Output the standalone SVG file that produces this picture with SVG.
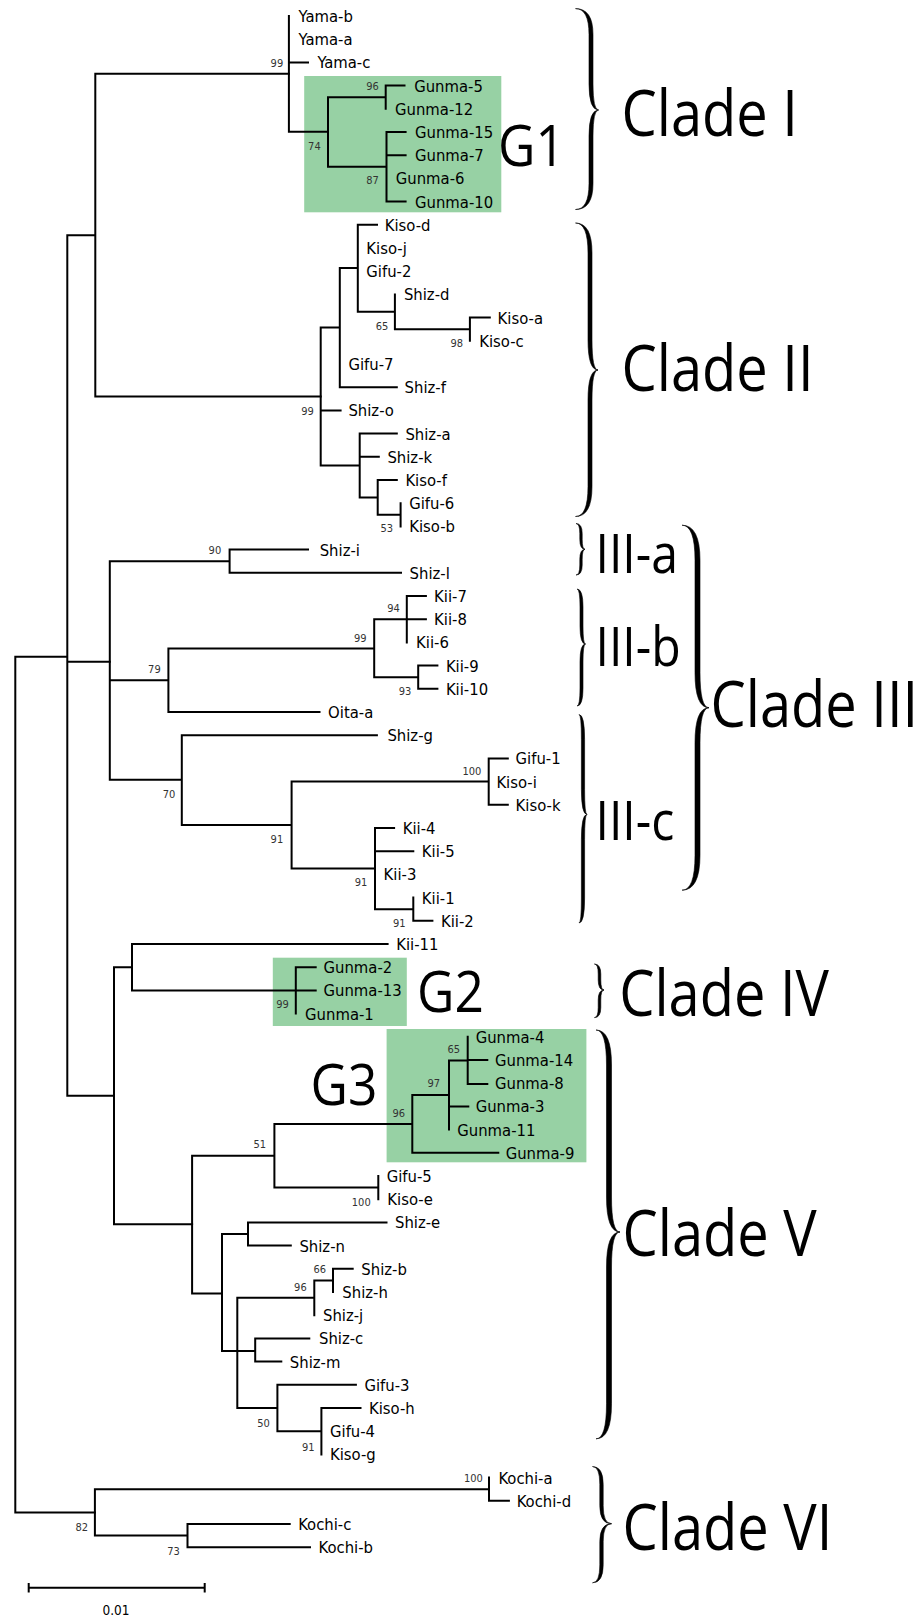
<svg xmlns="http://www.w3.org/2000/svg" width="921" height="1619" viewBox="0 0 921 1619">
  <style>
    .br { fill: none; stroke: #000; stroke-width: 2; stroke-linecap: square; }
    .hl { fill: #97d1a4; }
    .tx { font-family: "DejaVu Sans Condensed", "DejaVu Sans", sans-serif; font-stretch: condensed; font-size: 16.5px; fill: #000; }
    .bs { font-family: "DejaVu Sans Condensed", "DejaVu Sans", sans-serif; font-stretch: condensed; font-size: 11px; fill: #333; text-anchor: end; }
    .brace { fill: #000; stroke: #000; stroke-width: 0.6; stroke-linejoin: round; }
    .big { font-family: "Open Sans", "Noto Sans", sans-serif; font-size: 64px; fill: #000; }
    .sub { font-family: "Open Sans", "Noto Sans", sans-serif; font-size: 55px; fill: #000; }
    .grp { font-family: "Open Sans", "Noto Sans", sans-serif; font-size: 56px; fill: #000; }
  </style>

  <!-- shaded Gunma groups -->
  <g id="highlights">
    <rect class="hl" x="304.2" y="76" width="197.1" height="136.3"/>
    <rect class="hl" x="272.8" y="957.7" width="134" height="68.3"/>
    <rect class="hl" x="386.6" y="1029" width="199.8" height="133.3"/>
  </g>

  <!-- branches of the tree -->
  <g id="connectors">
    <path id="backbone" class="br" d="M15.3,656.7 V1512.4 M15.3,656.7 H67.3 M67.3,235.2 V1095.7 M67.3,235.2 H95.3 M95.3,73.8 V396.5 M95.3,73.8 H288.9 M95.3,396.5 H320.7 M67.3,661.7 H109.8 M67.3,1095.7 H114 M114,967.2 V1224.2 M114,967.2 H132 M114,1224.2 H192.1 M15.3,1512.4 H94.9"/>
    <path id="branches-clade-I" class="br" d="M288.9,16 V131.7 M288.9,62.4 H308 M288.9,131.7 H328 M328,97.2 V166.8 M328,97.2 H385.7 M385.7,85.6 V108.8 M385.7,85.6 H404.5 M328,166.8 H386.5 M386.5,132 V201.6 M386.5,132 H405.6 M386.5,155.2 H405.6 M386.5,201.6 H405.6"/>
    <path id="branches-clade-II" class="br" d="M320.7,327.5 V465.5 M320.7,327.5 H339.8 M339.8,268 V387.2 M339.8,268 H357.8 M357.8,224.8 V311.8 M357.8,224.8 H377 M357.8,311.8 H394.9 M394.9,294.4 V329.2 M394.9,329.2 H469.9 M469.9,317.6 V340.8 M469.9,317.6 H489.8 M339.8,387.2 H396.8 M320.7,410.4 H340.6 M320.7,465.5 H359.7 M359.7,433.6 V497.4 M359.7,433.6 H396.8 M359.7,456.8 H378.8 M359.7,497.4 H377.7 M377.7,480 V514.8 M377.7,480 H396.8 M377.7,514.8 H400.6 M400.6,503.2 V526.4"/>
    <path id="branches-clade-III" class="br" d="M109.8,561.2 V779.8 M109.8,561.2 H229.6 M229.6,549.6 V572.8 M229.6,549.6 H308 M229.6,572.8 H401 M109.8,680.2 H168.4 M168.4,648.6 V712 M168.4,648.6 H374.2 M374.2,619.2 V677.2 M374.2,619.2 H406.8 M406.8,596 V642.4 M406.8,596 H425.9 M406.8,619.2 H425.9 M374.2,677.2 H418.2 M418.2,665.6 V688.8 M418.2,665.6 H437.4 M418.2,688.8 H437.4 M168.4,712 H319.5 M109.8,779.8 H181.8 M181.8,735.2 V825 M181.8,735.2 H376.9 M181.8,825 H291.6 M291.6,781.6 V868.6 M291.6,781.6 H488.7 M488.7,758.4 V804.8 M488.7,758.4 H507.8 M488.7,804.8 H507.8 M291.6,868.6 H375 M375,828 V909.2 M375,828 H394.1 M375,851.2 H413.3 M375,909.2 H413.3 M413.3,897.6 V920.8 M413.3,920.8 H432.4"/>
    <path id="branches-clade-IV" class="br" d="M132,944 V990.4 M132,944 H387.6 M132,990.4 H295.8 M295.8,967.2 V1013.6 M295.8,967.2 H315.7 M295.8,990.4 H315.7"/>
    <path id="branches-clade-V" class="br" d="M192.1,1155.8 V1293.4 M192.1,1155.8 H274.4 M274.4,1123.9 V1187.6 M274.4,1123.9 H412.3 M412.3,1095 V1152.8 M412.3,1095 H449 M449,1060.4 V1129.6 M449,1060.4 H467.7 M467.7,1036.8 V1084 M467.7,1060 H487.3 M467.7,1084 H487.3 M449,1106.4 H468.3 M412.3,1152.8 H498.3 M274.4,1187.6 H378.3 M378.3,1176 V1199.2 M192.1,1293.4 H222 M222,1234 V1351 M222,1234 H248 M248,1222.4 V1245.6 M248,1222.4 H386.5 M248,1245.6 H290.8 M222,1351 H255.2 M237.3,1297.8 V1408 M237.3,1297.8 H314.3 M314.3,1280.4 V1315.2 M314.3,1280.4 H333 M333,1268.8 V1292 M333,1268.8 H352.7 M255.2,1338.4 V1361.6 M255.2,1338.4 H309.3 M255.2,1361.6 H281.3 M237.3,1408 H277.4 M277.4,1384.8 V1431.2 M277.4,1384.8 H355.9 M277.4,1431.2 H321.4 M321.4,1408 V1454.4 M321.4,1408 H360.5"/>
    <path id="branches-clade-VI" class="br" d="M94.9,1489.2 V1535.6 M94.9,1489.2 H489 M489,1477.6 V1500.8 M489,1500.8 H508.9 M94.9,1535.6 H187.5 M187.5,1524 V1547.2 M187.5,1524 H289.7 M187.5,1547.2 H310"/>
  </g>

  <!-- Clade I taxa and support values -->
  <g id="clade-I">
    <text class="tx" x="298.6" y="22">Yama-b</text>
    <text class="tx" x="298.6" y="45.2">Yama-a</text>
    <text class="tx" x="317.4" y="68.4">Yama-c</text>
    <text class="tx" x="414.2" y="91.6">Gunma-5</text>
    <text class="tx" x="395" y="114.8">Gunma-12</text>
    <text class="tx" x="415" y="138">Gunma-15</text>
    <text class="tx" x="415" y="161.2">Gunma-7</text>
    <text class="tx" x="395.8" y="184.4">Gunma-6</text>
    <text class="tx" x="415" y="207.6">Gunma-10</text>
    <text class="bs" x="283.2" y="66.7">99</text>
    <text class="bs" x="378.8" y="90">96</text>
    <text class="bs" x="320.7" y="149.7">74</text>
    <text class="bs" x="378.8" y="184">87</text>
  </g>

  <!-- Clade II taxa and support values -->
  <g id="clade-II">
    <text class="tx" x="384.7" y="230.8">Kiso-d</text>
    <text class="tx" x="366.3" y="254">Kiso-j</text>
    <text class="tx" x="366.3" y="277.2">Gifu-2</text>
    <text class="tx" x="403.9" y="300.4">Shiz-d</text>
    <text class="tx" x="497.6" y="323.6">Kiso-a</text>
    <text class="tx" x="479.2" y="346.8">Kiso-c</text>
    <text class="tx" x="348.4" y="370">Gifu-7</text>
    <text class="tx" x="404.6" y="393.2">Shiz-f</text>
    <text class="tx" x="348.4" y="416.4">Shiz-o</text>
    <text class="tx" x="405.4" y="439.6">Shiz-a</text>
    <text class="tx" x="387.4" y="462.8">Shiz-k</text>
    <text class="tx" x="405.4" y="486">Kiso-f</text>
    <text class="tx" x="409.2" y="509.2">Gifu-6</text>
    <text class="tx" x="409.2" y="532.4">Kiso-b</text>
    <text class="bs" x="388.4" y="329.7">65</text>
    <text class="bs" x="463" y="346.7">98</text>
    <text class="bs" x="313.8" y="415">99</text>
    <text class="bs" x="393" y="532.3">53</text>
  </g>

  <!-- Clade III taxa and support values -->
  <g id="clade-III">
    <text class="tx" x="319.7" y="555.6">Shiz-i</text>
    <text class="tx" x="409.6" y="578.8">Shiz-l</text>
    <text class="tx" x="434.1" y="602">Kii-7</text>
    <text class="tx" x="434.1" y="625.2">Kii-8</text>
    <text class="tx" x="416.1" y="648.4">Kii-6</text>
    <text class="tx" x="445.9" y="671.6">Kii-9</text>
    <text class="tx" x="445.9" y="694.8">Kii-10</text>
    <text class="tx" x="328.1" y="718">Oita-a</text>
    <text class="tx" x="387.4" y="741.2">Shiz-g</text>
    <text class="tx" x="515.6" y="764.4">Gifu-1</text>
    <text class="tx" x="496.4" y="787.6">Kiso-i</text>
    <text class="tx" x="515.6" y="810.8">Kiso-k</text>
    <text class="tx" x="402.7" y="834">Kii-4</text>
    <text class="tx" x="421.8" y="857.2">Kii-5</text>
    <text class="tx" x="383.6" y="880.4">Kii-3</text>
    <text class="tx" x="421.8" y="903.6">Kii-1</text>
    <text class="tx" x="441" y="926.8">Kii-2</text>
    <text class="bs" x="221.2" y="554">90</text>
    <text class="bs" x="399.9" y="612.3">94</text>
    <text class="bs" x="366.6" y="641.7">99</text>
    <text class="bs" x="160.7" y="673">79</text>
    <text class="bs" x="411.3" y="695">93</text>
    <text class="bs" x="481.4" y="774.7">100</text>
    <text class="bs" x="175.3" y="798">70</text>
    <text class="bs" x="283.2" y="843">91</text>
    <text class="bs" x="367.3" y="886.3">91</text>
    <text class="bs" x="405.6" y="927.3">91</text>
  </g>

  <!-- Clade IV taxa and support values -->
  <g id="clade-IV">
    <text class="tx" x="396.2" y="950">Kii-11</text>
    <text class="tx" x="323.5" y="973.2">Gunma-2</text>
    <text class="tx" x="323.5" y="996.4">Gunma-13</text>
    <text class="tx" x="305.1" y="1019.6">Gunma-1</text>
    <text class="bs" x="288.9" y="1008.3">99</text>
  </g>

  <!-- Clade V taxa and support values -->
  <g id="clade-V">
    <text class="tx" x="475.7" y="1042.8">Gunma-4</text>
    <text class="tx" x="495" y="1066">Gunma-14</text>
    <text class="tx" x="495" y="1089.2">Gunma-8</text>
    <text class="tx" x="475.7" y="1112.4">Gunma-3</text>
    <text class="tx" x="457.3" y="1135.6">Gunma-11</text>
    <text class="tx" x="505.7" y="1158.8">Gunma-9</text>
    <text class="tx" x="386.7" y="1182">Gifu-5</text>
    <text class="tx" x="387.3" y="1205.2">Kiso-e</text>
    <text class="tx" x="395" y="1228.4">Shiz-e</text>
    <text class="tx" x="299.4" y="1251.6">Shiz-n</text>
    <text class="tx" x="361.3" y="1274.8">Shiz-b</text>
    <text class="tx" x="342.3" y="1298">Shiz-h</text>
    <text class="tx" x="323" y="1321.2">Shiz-j</text>
    <text class="tx" x="319" y="1344.4">Shiz-c</text>
    <text class="tx" x="289.8" y="1367.6">Shiz-m</text>
    <text class="tx" x="364.4" y="1390.8">Gifu-3</text>
    <text class="tx" x="369" y="1414">Kiso-h</text>
    <text class="tx" x="330" y="1437.2">Gifu-4</text>
    <text class="tx" x="330" y="1460.4">Kiso-g</text>
    <text class="bs" x="460" y="1053">65</text>
    <text class="bs" x="440" y="1087.3">97</text>
    <text class="bs" x="405" y="1116.7">96</text>
    <text class="bs" x="266" y="1148.3">51</text>
    <text class="bs" x="370.7" y="1205.7">100</text>
    <text class="bs" x="326" y="1273">66</text>
    <text class="bs" x="306.7" y="1290.7">96</text>
    <text class="bs" x="269.8" y="1426.7">50</text>
    <text class="bs" x="314.5" y="1450.7">91</text>
  </g>

  <!-- Clade VI taxa and support values -->
  <g id="clade-VI">
    <text class="tx" x="498.4" y="1483.6">Kochi-a</text>
    <text class="tx" x="516.7" y="1506.8">Kochi-d</text>
    <text class="tx" x="298.2" y="1530">Kochi-c</text>
    <text class="tx" x="318.5" y="1553.2">Kochi-b</text>
    <text class="bs" x="482.9" y="1482.3">100</text>
    <text class="bs" x="88" y="1530.7">82</text>
    <text class="bs" x="179.9" y="1554.7">73</text>
  </g>

  <!-- group labels for shaded boxes -->
  <g id="group-labels">
    <text class="grp" transform="translate(498,165.7) scale(0.92,1)">G1</text>
    <text class="grp" transform="translate(417,1012) scale(0.92,1)">G2</text>
    <text class="grp" transform="translate(310.5,1105) scale(0.92,1)">G3</text>
  </g>

  <!-- clade braces and names -->
  <g id="label-clade-I">
    <path class="brace" d="M575.5,8.6 Q593,8.6 593,34.6 L593,84 Q593,110 598.5,110 Q593,110 593,136 L593,183.5 Q593,209.5 575.5,209.5 Q589,209.5 589,183.5 L589,136 Q589,110 598.5,110 Q589,110 589,84 L589,34.6 Q589,8.6 575.5,8.6Z"/>
    <text class="big" transform="translate(621.5,136) scale(0.875,1)">Clade I</text>
  </g>
  <g id="label-clade-II">
    <path class="brace" d="M575.5,223 Q592,223 592,253 L592,340 Q592,370 598,370 Q592,370 592,400 L592,486.5 Q592,516.5 575.5,516.5 Q588,516.5 588,486.5 L588,400 Q588,370 598,370 Q588,370 588,340 L588,253 Q588,223 575.5,223Z"/>
    <text class="big" transform="translate(621.5,390.8) scale(0.875,1)">Clade II</text>
  </g>
  <g id="label-clade-III-a">
    <path class="brace" d="M576,523.5 Q582.2,523.5 582.2,533.5 L582.2,539.3 Q582.2,549.3 585,549.3 Q582.2,549.3 582.2,559.3 L582.2,565 Q582.2,575 576,575 Q579.8,575 579.8,565 L579.8,559.3 Q579.8,549.3 585,549.3 Q579.8,549.3 579.8,539.3 L579.8,533.5 Q579.8,523.5 576,523.5Z"/>
    <text class="sub" transform="translate(595.5,573.4) scale(0.875,1)">III-a</text>
  </g>
  <g id="label-clade-III-b">
    <path class="brace" d="M577,589 Q583,589 583,607 L583,626 Q583,644 585.5,644 Q583,644 583,662 L583,688 Q583,706 577,706 Q580,706 580,688 L580,662 Q580,644 585.5,644 Q580,644 580,626 L580,607 Q580,589 577,589Z"/>
    <text class="sub" transform="translate(595.5,666.3) scale(0.875,1)">III-b</text>
  </g>
  <g id="label-clade-III-c">
    <path class="brace" d="M579,714.5 Q584.6,714.5 584.6,739.5 L584.6,789.4 Q584.6,814.4 587,814.4 Q584.6,814.4 584.6,839.4 L584.6,898 Q584.6,923 579,923 Q581.4,923 581.4,898 L581.4,839.4 Q581.4,814.4 587,814.4 Q581.4,814.4 581.4,789.4 L581.4,739.5 Q581.4,714.5 579,714.5Z"/>
    <text class="sub" transform="translate(595.5,840.2) scale(0.875,1)">III-c</text>
  </g>
  <g id="label-clade-III">
    <path class="brace" d="M682,525.2 Q700,525.2 700,560.2 L700,672.7 Q700,707.7 709,707.7 Q700,707.7 700,742.7 L700,855.2 Q700,890.2 682,890.2 Q695,890.2 695,855.2 L695,742.7 Q695,707.7 709,707.7 Q695,707.7 695,672.7 L695,560.2 Q695,525.2 682,525.2Z"/>
    <text class="big" transform="translate(710.5,726.6) scale(0.875,1)">Clade III</text>
  </g>
  <g id="label-clade-IV">
    <path class="brace" d="M594.4,964 Q600.8,964 600.8,974 L600.8,980 Q600.8,990 604,990 Q600.8,990 600.8,1000 L600.8,1007.6 Q600.8,1017.6 594.4,1017.6 Q598.2,1017.6 598.2,1007.6 L598.2,1000 Q598.2,990 604,990 Q598.2,990 598.2,980 L598.2,974 Q598.2,964 594.4,964Z"/>
    <text class="big" transform="translate(619.2,1016) scale(0.875,1)">Clade IV</text>
  </g>
  <g id="label-clade-V">
    <path class="brace" d="M596,1030 Q611.5,1030 611.5,1065 L611.5,1197 Q611.5,1232 620,1232 Q611.5,1232 611.5,1267 L611.5,1403.8 Q611.5,1438.8 596,1438.8 Q606.5,1438.8 606.5,1403.8 L606.5,1267 Q606.5,1232 620,1232 Q606.5,1232 606.5,1197 L606.5,1065 Q606.5,1030 596,1030Z"/>
    <text class="big" transform="translate(622.5,1256) scale(0.875,1)">Clade V</text>
  </g>
  <g id="label-clade-VI">
    <path class="brace" d="M592.5,1466.5 Q603.2,1466.5 603.2,1484.5 L603.2,1505.7 Q603.2,1523.7 611.5,1523.7 Q603.2,1523.7 603.2,1541.7 L603.2,1564.8 Q603.2,1582.8 592.5,1582.8 Q599.8,1582.8 599.8,1564.8 L599.8,1541.7 Q599.8,1523.7 611.5,1523.7 Q599.8,1523.7 599.8,1505.7 L599.8,1484.5 Q599.8,1466.5 592.5,1466.5Z"/>
    <text class="big" transform="translate(622.5,1549.6) scale(0.875,1)">Clade VI</text>
  </g>

  <!-- distance scale -->
  <g id="scale-bar">
    <path class="br" d="M28.7,1587.7 H204.7 M28.7,1584 V1591.5 M204.7,1584 V1591.5"/>
    <text class="tx" x="116" y="1615" text-anchor="middle" style="font-size:13.5px">0.01</text>
  </g>
</svg>
